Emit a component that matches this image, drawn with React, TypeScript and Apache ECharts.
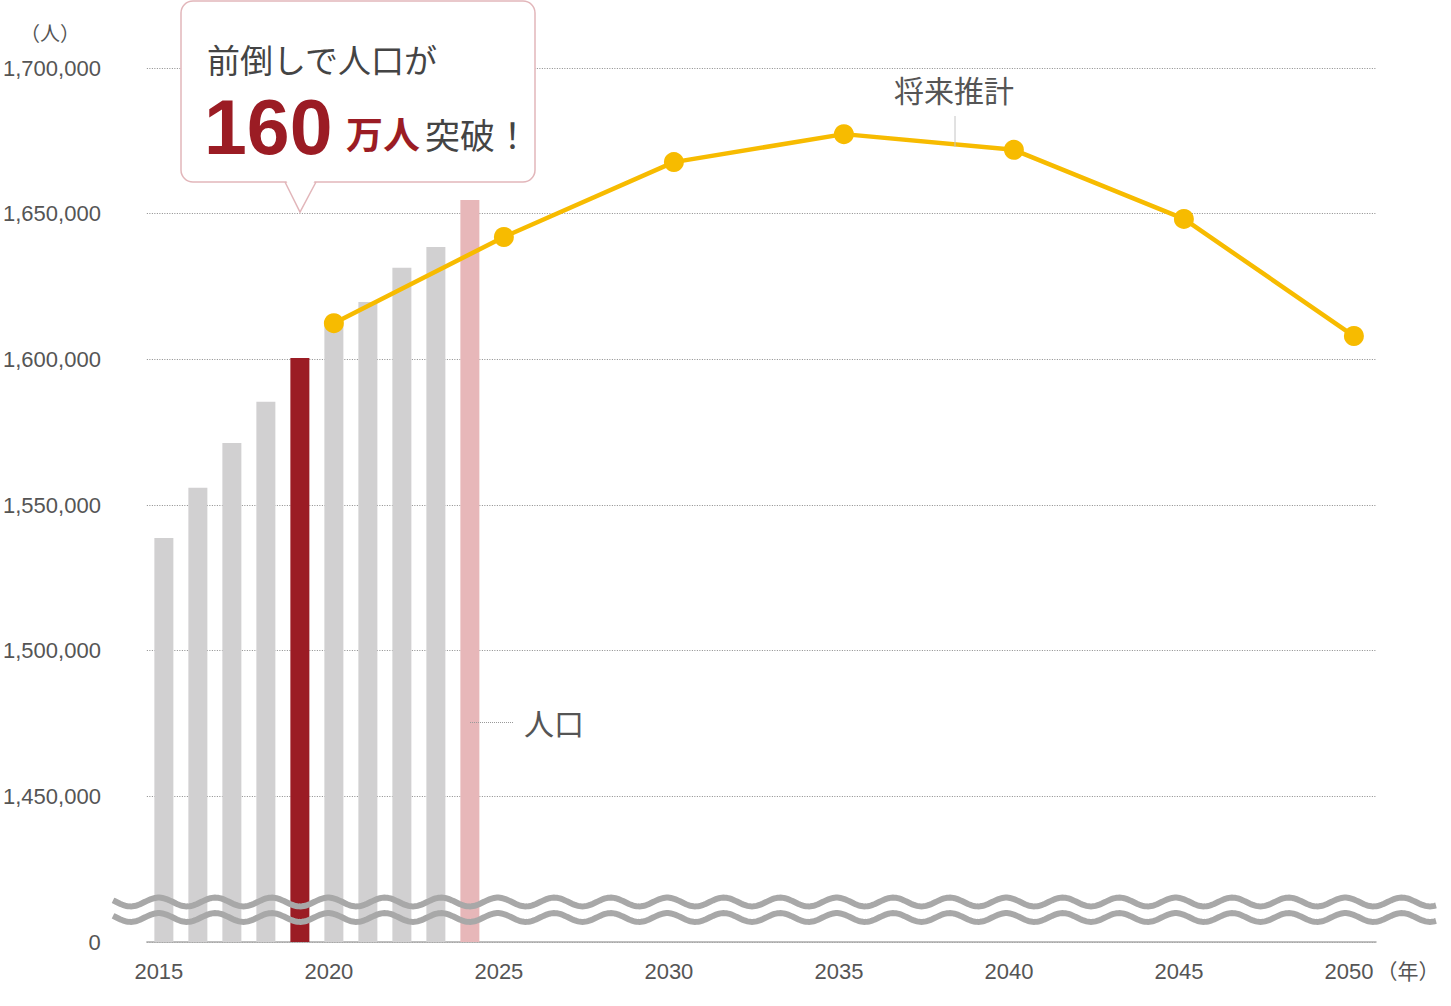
import React, { useEffect, useRef } from "react";
import * as echarts from "echarts";

const barYears = [2015, 2016, 2017, 2018, 2019, 2020, 2021, 2022, 2023, 2024];
const barValues = [1538700, 1555900, 1571300, 1585400, 1600500, 1612000, 1619700, 1631400, 1638600, 1654700];
const highlightYear = 2019;
const latestYear = 2024;

const lineYears = [2020, 2025, 2030, 2035, 2040, 2045, 2050];
const lineValues = [1612400, 1642000, 1667700, 1677300, 1671900, 1648200, 1608000];

const yMin = 1400000;
const yMax = 1700000;
const yStep = 50000;

const calloutLine1 = "前倒しで人口が";
const calloutNumber = "160";
const calloutUnit = "万人";
const calloutTail = "突破！";
const forecastLabel = "将来推計";
const populationLabel = "人口";
const yUnit = "（人）";
const xUnit = "（年）";

const NUM_FONT = "'Liberation Sans', Arial, 'Noto Sans CJK JP', sans-serif";
const JP_FONT = "'Noto Sans CJK JP', 'Liberation Sans', sans-serif";

function fmt(v: number): string {
  return String(v).replace(/\B(?=(\d{3})+(?!\d))/g, ",");
}

function wave(yc: number): number[][] {
  const pts: number[][] = [];
  const P = 56.5;
  const A = 4.4;
  for (let x = 113; x <= 1436; x += 1.5) {
    pts.push([x, yc + A * Math.cos((2 * Math.PI * (x - 300)) / P)]);
  }
  return pts;
}

export default function App() {
  const ref = useRef<HTMLDivElement>(null);
  useEffect(() => {
    if (!ref.current) return;
    const chart = echarts.init(ref.current, undefined, { renderer: "svg" });
    const barData = barYears.map((y, i) => ({
      value: [y, barValues[i]],
      itemStyle: {
        color: y === highlightYear ? "#9b1c24" : y === latestYear ? "#e7b7b9" : "#d1d0d1",
      },
    }));
    const lineData = lineYears.map((y, i) => [y, lineValues[i]]);

    const textStyle = (x: number, y: number, text: string, font: string, fill: string, align = "left") => ({
      type: "text",
      z: 100,
      style: {
        x,
        y,
        text,
        font,
        fill,
        align,
        verticalAlign: "middle",
        textAlign: align,
        textVerticalAlign: "middle",
      },
    });

    chart.setOption({
      animation: false,
      backgroundColor: "#ffffff",
      grid: { left: 145, right: 75, top: 68, bottom: 64, containLabel: false },
      xAxis: {
        type: "value",
        min: 2014.5,
        max: 2050.65,
        interval: 0.5,
        splitLine: { show: false },
        axisTick: { show: false },
        axisLine: { show: true, onZero: false, lineStyle: { color: "#aaaaaa", width: 1.5 } },
        axisLabel: {
          showMaxLabel: false,
          margin: 18,
          color: "#555555",
          fontSize: 22,
          fontFamily: NUM_FONT,
          padding: [0, 10, 0, 0],
          formatter: (v: number) => (Math.abs(v % 5) < 1e-6 ? String(v) : ""),
        },
      },
      yAxis: {
        type: "value",
        min: yMin,
        max: yMax,
        interval: yStep,
        axisLine: { show: false },
        axisTick: { show: false },
        axisLabel: {
          margin: 46,
          color: "#555555",
          fontSize: 22,
          fontFamily: NUM_FONT,
          formatter: (v: number) => (v === yMin ? "0" : fmt(v)),
        },
        splitLine: {
          show: true,
          lineStyle: { color: "#8a8a8a", width: 1, type: [1, 1.5] },
        },
      },
      series: [
        {
          type: "bar",
          data: barData,
          barWidth: 19,
          clip: true,
          z: 2,
        },
        {
          type: "line",
          data: lineData,
          symbol: "circle",
          symbolSize: 20,
          lineStyle: { color: "#f7bb00", width: 4.5 },
          itemStyle: { color: "#f7bb00" },
          z: 5,
        },
      ],
      graphic: [
        {
          type: "polyline",
          z: 50,
          shape: { points: wave(902) },
          style: { stroke: "#a8a8a8", lineWidth: 6, fill: null },
        },
        {
          type: "polyline",
          z: 50,
          shape: { points: wave(917.5) },
          style: { stroke: "#a8a8a8", lineWidth: 6, fill: null },
        },
        {
          type: "rect",
          z: 60,
          shape: { x: 181, y: 1, width: 354, height: 181, r: 12 },
          style: { fill: "#ffffff", stroke: "#e2b6ba", lineWidth: 1.5 },
        },
        {
          type: "polygon",
          z: 61,
          shape: { points: [[286, 180], [315, 180], [300, 210]] },
          style: { fill: "#ffffff" },
        },
        {
          type: "polyline",
          z: 62,
          shape: { points: [[285, 182], [300, 212], [316, 182]] },
          style: { stroke: "#e2b6ba", lineWidth: 1.5, fill: null },
        },
        textStyle(207, 59, calloutLine1, `33px ${JP_FONT}`, "#444444"),
        textStyle(204, 127, calloutNumber, `bold 77px ${NUM_FONT}`, "#9b1c24"),
        textStyle(346, 133, calloutUnit, `bold 37px ${JP_FONT}`, "#9b1c24"),
        textStyle(425, 133, calloutTail, `35px ${JP_FONT}`, "#444444"),
        textStyle(954, 89, forecastLabel, `30px ${JP_FONT}`, "#555555", "center"),
        {
          type: "line",
          z: 40,
          shape: { x1: 955, y1: 116, x2: 955, y2: 147 },
          style: { stroke: "#c4c4c4", lineWidth: 1 },
        },
        textStyle(524, 722, populationLabel, `30px ${JP_FONT}`, "#555555"),
        {
          type: "line",
          z: 40,
          shape: { x1: 470, y1: 722.5, x2: 514, y2: 722.5 },
          style: { stroke: "#999999", lineWidth: 1, lineDash: [1, 1] },
        },
        textStyle(50, 32, yUnit, `20px ${JP_FONT}`, "#555555", "center"),
        textStyle(1408, 970, xUnit, `21px ${JP_FONT}`, "#555555", "center"),
      ],
    });
    return () => chart.dispose();
  }, []);
  return (
    <div
      ref={ref}
      style={{ position: "fixed", left: 0, top: 0, width: 1451, height: 1006, background: "#fff" }}
    />
  );
}
